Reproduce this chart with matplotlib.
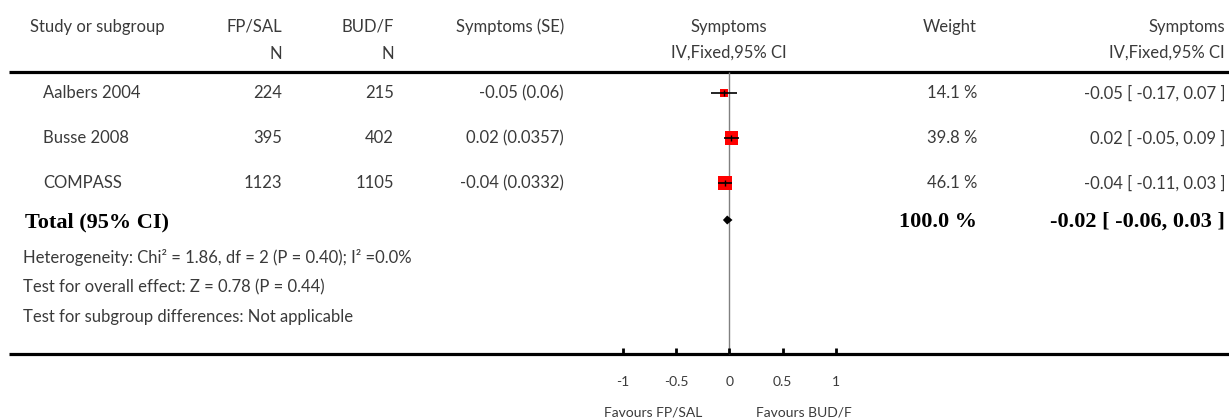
# %% ------ Import packages
import numpy as np
import matplotlib.pyplot as plt

# %% ------ Data

studies = ['Aalbers 2004', 'Busse 2008', 'COMPASS']
n_fpsal = [224, 395, 1123]
n_budf = [215, 402, 1105]
est = [-0.05, 0.02, -0.04]
se = [0.06, 0.0357, 0.0332]
ci_lo = [-0.17, -0.05, -0.11]
ci_hi = [0.07, 0.09, 0.03]
weight = [14.1, 39.8, 46.1]

total_est = -0.02
total_lo = -0.06
total_hi = 0.03
total_weight = 100.0

footer = ['Heterogeneity: Chi\u00b2 = 1.86, df = 2 (P = 0.40); I\u00b2 =0.0%',
          'Test for overall effect: Z = 0.78 (P = 0.44)',
          'Test for subgroup differences: Not applicable']

xticks = [-1, -0.5, 0, 0.5, 1]
xticklabels = ['-1', '-0.5', '0', '0.5', '1']

# %% ------ Figure set up (pixel coords for the table, effect units for forest)

W, H = 1229, 419
fig = plt.figure(figsize=(W / 100, H / 100), dpi=100)
ax = fig.add_axes([0, 0, 1, 1])
ax.set_xlim(0, W)
ax.set_ylim(H, 0)
ax.axis('off')

# forest axes: 0 at x=729.3 px, 1 unit = 106.5 px
x0, unit = 729.3, 106.5
flim = 1.5
fax = fig.add_axes([(x0 - flim * unit) / W, 0, 2 * flim * unit / W, 1])
fax.set_xlim(-flim, flim)
fax.set_ylim(H, 0)
fax.axis('off')
fax.patch.set_alpha(0)

plt.rcParams['font.family'] = ['Lato', 'DejaVu Sans']
tc = '#3a3a3a'
fs = 12
serif = ['Liberation Serif']

# %% ------ Header

ax.text(30, 27, 'Study or subgroup', fontsize=fs, color=tc, va='center')
ax.text(282, 27, 'FP/SAL', fontsize=fs, color=tc, va='center', ha='right')
ax.text(394, 27, 'BUD/F', fontsize=fs, color=tc, va='center', ha='right')
ax.text(282, 54, 'N', fontsize=fs, color=tc, va='center', ha='right')
ax.text(394, 54, 'N', fontsize=fs, color=tc, va='center', ha='right')
ax.text(564, 27, 'Symptoms (SE)', fontsize=fs, color=tc, va='center', ha='right')
fax.text(0, 27, 'Symptoms', fontsize=fs, color=tc, va='center', ha='center')
fax.text(0, 53, 'IV,Fixed,95% CI', fontsize=fs, color=tc, va='center', ha='center')
ax.text(977, 27, 'Weight', fontsize=fs, color=tc, va='center', ha='right')
ax.text(1225, 27, 'Symptoms', fontsize=fs, color=tc, va='center', ha='right')
ax.text(1225, 53, 'IV,Fixed,95% CI', fontsize=fs, color=tc, va='center', ha='right')

ax.hlines([72, 354], 9, W, color='black', lw=2.3)

# %% ------ Study rows

row_y = [93, 138, 183]
for i in range(len(studies)):
    y = row_y[i]
    ax.text(43, y, studies[i], fontsize=fs, color=tc, va='center')
    ax.text(282, y, str(n_fpsal[i]), fontsize=fs, color=tc, va='center', ha='right')
    ax.text(394, y, str(n_budf[i]), fontsize=fs, color=tc, va='center', ha='right')
    ax.text(564, y, '%.2f (%s)' % (est[i], se[i]), fontsize=fs, color=tc,
            va='center', ha='right')
    ax.text(977, y, '%.1f %%' % weight[i], fontsize=fs, color=tc,
            va='center', ha='right')
    ax.text(1225, y, '%.2f [ %.2f, %.2f ]' % (est[i], ci_lo[i], ci_hi[i]),
            fontsize=fs, color=tc, va='center', ha='right')
    # box sized by weight, CI line on top
    box = 2.1 * np.sqrt(weight[i]) * 0.72
    fax.scatter(est[i], y, marker='s', s=box ** 2, color='#ff0000',
                edgecolors='none', zorder=3)
    fax.hlines(y, ci_lo[i], ci_hi[i], color='black', lw=1.2, zorder=4)
    fax.plot(est[i], y, marker='|', ms=5, color='black', mew=1, zorder=5)

# %% ------ Total row and footer

ty = 222
ax.text(25, ty, 'Total (95% CI)', fontsize=16, fontweight='bold',
        family=serif, color='black', va='center')
ax.text(977, ty, '%.1f %%' % total_weight, fontsize=16, fontweight='bold',
        family=serif, color='black', va='center', ha='right')
ax.text(1225, ty, '%.2f [ %.2f, %.2f ]' % (total_est, total_lo, total_hi),
        fontsize=16, fontweight='bold', family=serif, color='black',
        va='center', ha='right')
dh = 4.5
fax.fill([total_lo, total_est, total_hi, total_est],
         [ty - 2, ty - 2 - dh, ty - 2, ty - 2 + dh], color='black', lw=0,
         zorder=4)

foot_y = [257, 287, 317]
for txt, y in zip(footer, foot_y):
    ax.text(23, y, txt, fontsize=fs, color=tc, va='center')

# %% ------ Forest axis: null line, ticks, labels

fax.vlines(0, 72, 354, color='#808080', lw=1, zorder=2)
fax.vlines(xticks, 348, 354, color='black', lw=2)
for t, lab in zip(xticks, xticklabels):
    fax.text(t, 382, lab, fontsize=10, color=tc, ha='center', va='center')
fax.text(-27 / unit, 412, 'Favours FP/SAL', fontsize=10, color=tc,
         ha='right', va='center')
fax.text(27 / unit, 412, 'Favours BUD/F', fontsize=10, color=tc,
         ha='left', va='center')

plt.savefig('out.png', dpi=100)
